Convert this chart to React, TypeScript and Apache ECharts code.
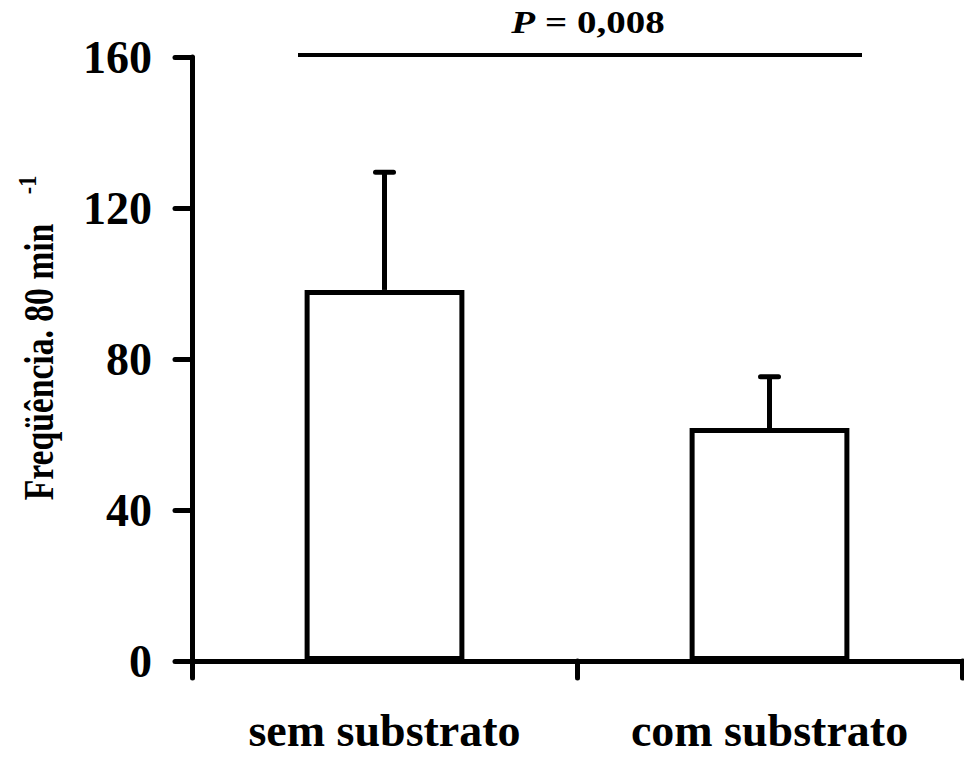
import React, { useEffect, useRef } from "react";
import * as echarts from "echarts";

const categories = ["sem substrato", "com substrato"];
const means = [98.3, 61.7];
const upperErrors = [129.5, 75.3];
const yMin = 0;
const yMax = 160;
const yInterval = 40;
const pValueText = "0,008";
const yTitle = "Freqüência. 80 min";
const yTitleSup = "-1";

export default function App() {
  const ref = useRef<HTMLDivElement>(null);
  useEffect(() => {
    const chart = echarts.init(ref.current!, null, { renderer: "svg" });
    const font = "'Liberation Serif', 'Times New Roman', serif";
    const errData = categories.map((_, i) => [i, means[i], upperErrors[i]]);
    chart.setOption({
      animation: false,
      backgroundColor: "#ffffff",
      grid: { left: 192, right: 2, top: 57, bottom: 99, containLabel: false },
      xAxis: {
        type: "category",
        data: categories,
        boundaryGap: true,
        axisLine: { lineStyle: { color: "#000", width: 5, cap: "round" } },
        axisTick: { show: true, alignWithLabel: false, length: 17, lineStyle: { color: "#000", width: 5, cap: "round" } },
        axisLabel: { color: "#000", fontSize: 46, fontWeight: "bold", fontFamily: font, margin: 46 },
        splitLine: { show: false },
      },
      yAxis: {
        type: "value",
        min: yMin,
        max: yMax,
        interval: yInterval,
        axisLine: { show: true, lineStyle: { color: "#000", width: 5, cap: "round" } },
        axisTick: { show: true, length: 17, lineStyle: { color: "#000", width: 5, cap: "round" } },
        axisLabel: { color: "#000", fontSize: 46, fontWeight: "bold", fontFamily: font, margin: 40 },
        splitLine: { show: false },
      },
      series: [
        {
          type: "bar",
          data: means,
          barWidth: "41.5%",
          itemStyle: { color: "#ffffff", borderColor: "#000", borderWidth: 5 },
          z: 2,
        },
        {
          type: "custom",
          data: errData,
          encode: { x: 0, y: [1, 2] },
          z: 3,
          renderItem: (params: any, api: any) => {
            const idx = api.value(0);
            const base = api.coord([idx, api.value(1)]);
            const top = api.coord([idx, api.value(2)]);
            return {
              type: "group",
              children: [
                {
                  type: "line",
                  shape: { x1: base[0], y1: base[1], x2: top[0], y2: top[1] },
                  style: { stroke: "#000", lineWidth: 5 },
                },
                {
                  type: "line",
                  shape: { x1: top[0] - 9, y1: top[1], x2: top[0] + 9, y2: top[1] },
                  style: { stroke: "#000", lineWidth: 5, lineCap: "round" },
                },
              ],
            };
          },
        },
      ],
      graphic: [
        {
          type: "line",
          shape: { x1: 298, y1: 55, x2: 862, y2: 55 },
          style: { stroke: "#000", lineWidth: 4 },
        },
        {
          type: "text",
          x: 588,
          y: 23,
          scaleY: 0.8,
          style: {
            text: `{i|P}{n| = ${pValueText}}`,
            align: "center",
            verticalAlign: "middle",
            fill: "#000",
            fontFamily: font,
            fontWeight: "bold",
            fontSize: 39,
            rich: {
              i: { fontStyle: "italic", fontWeight: "bold", fontSize: 39, fontFamily: font, fill: "#000" },
              n: { fontWeight: "bold", fontSize: 39, fontFamily: font, fill: "#000" },
            },
          },
        },
        {
          type: "text",
          x: 39,
          y: 362,
          rotation: Math.PI / 2,
          scaleX: 0.8,
          style: {
            text: yTitle,
            align: "center",
            verticalAlign: "middle",
            fill: "#000",
            fontFamily: font,
            fontWeight: "bold",
            fontSize: 42,
          },
        },
        {
          type: "text",
          x: 27,
          y: 185,
          rotation: Math.PI / 2,
          scaleX: 0.85,
          style: {
            text: yTitleSup,
            align: "center",
            verticalAlign: "middle",
            fill: "#000",
            fontFamily: font,
            fontWeight: "bold",
            fontSize: 26,
          },
        },
      ],
    });
    return () => chart.dispose();
  }, []);
  return (
    <div
      ref={ref}
      style={{ position: "fixed", left: 0, top: 0, width: 964, height: 760, background: "#fff" }}
    />
  );
}
